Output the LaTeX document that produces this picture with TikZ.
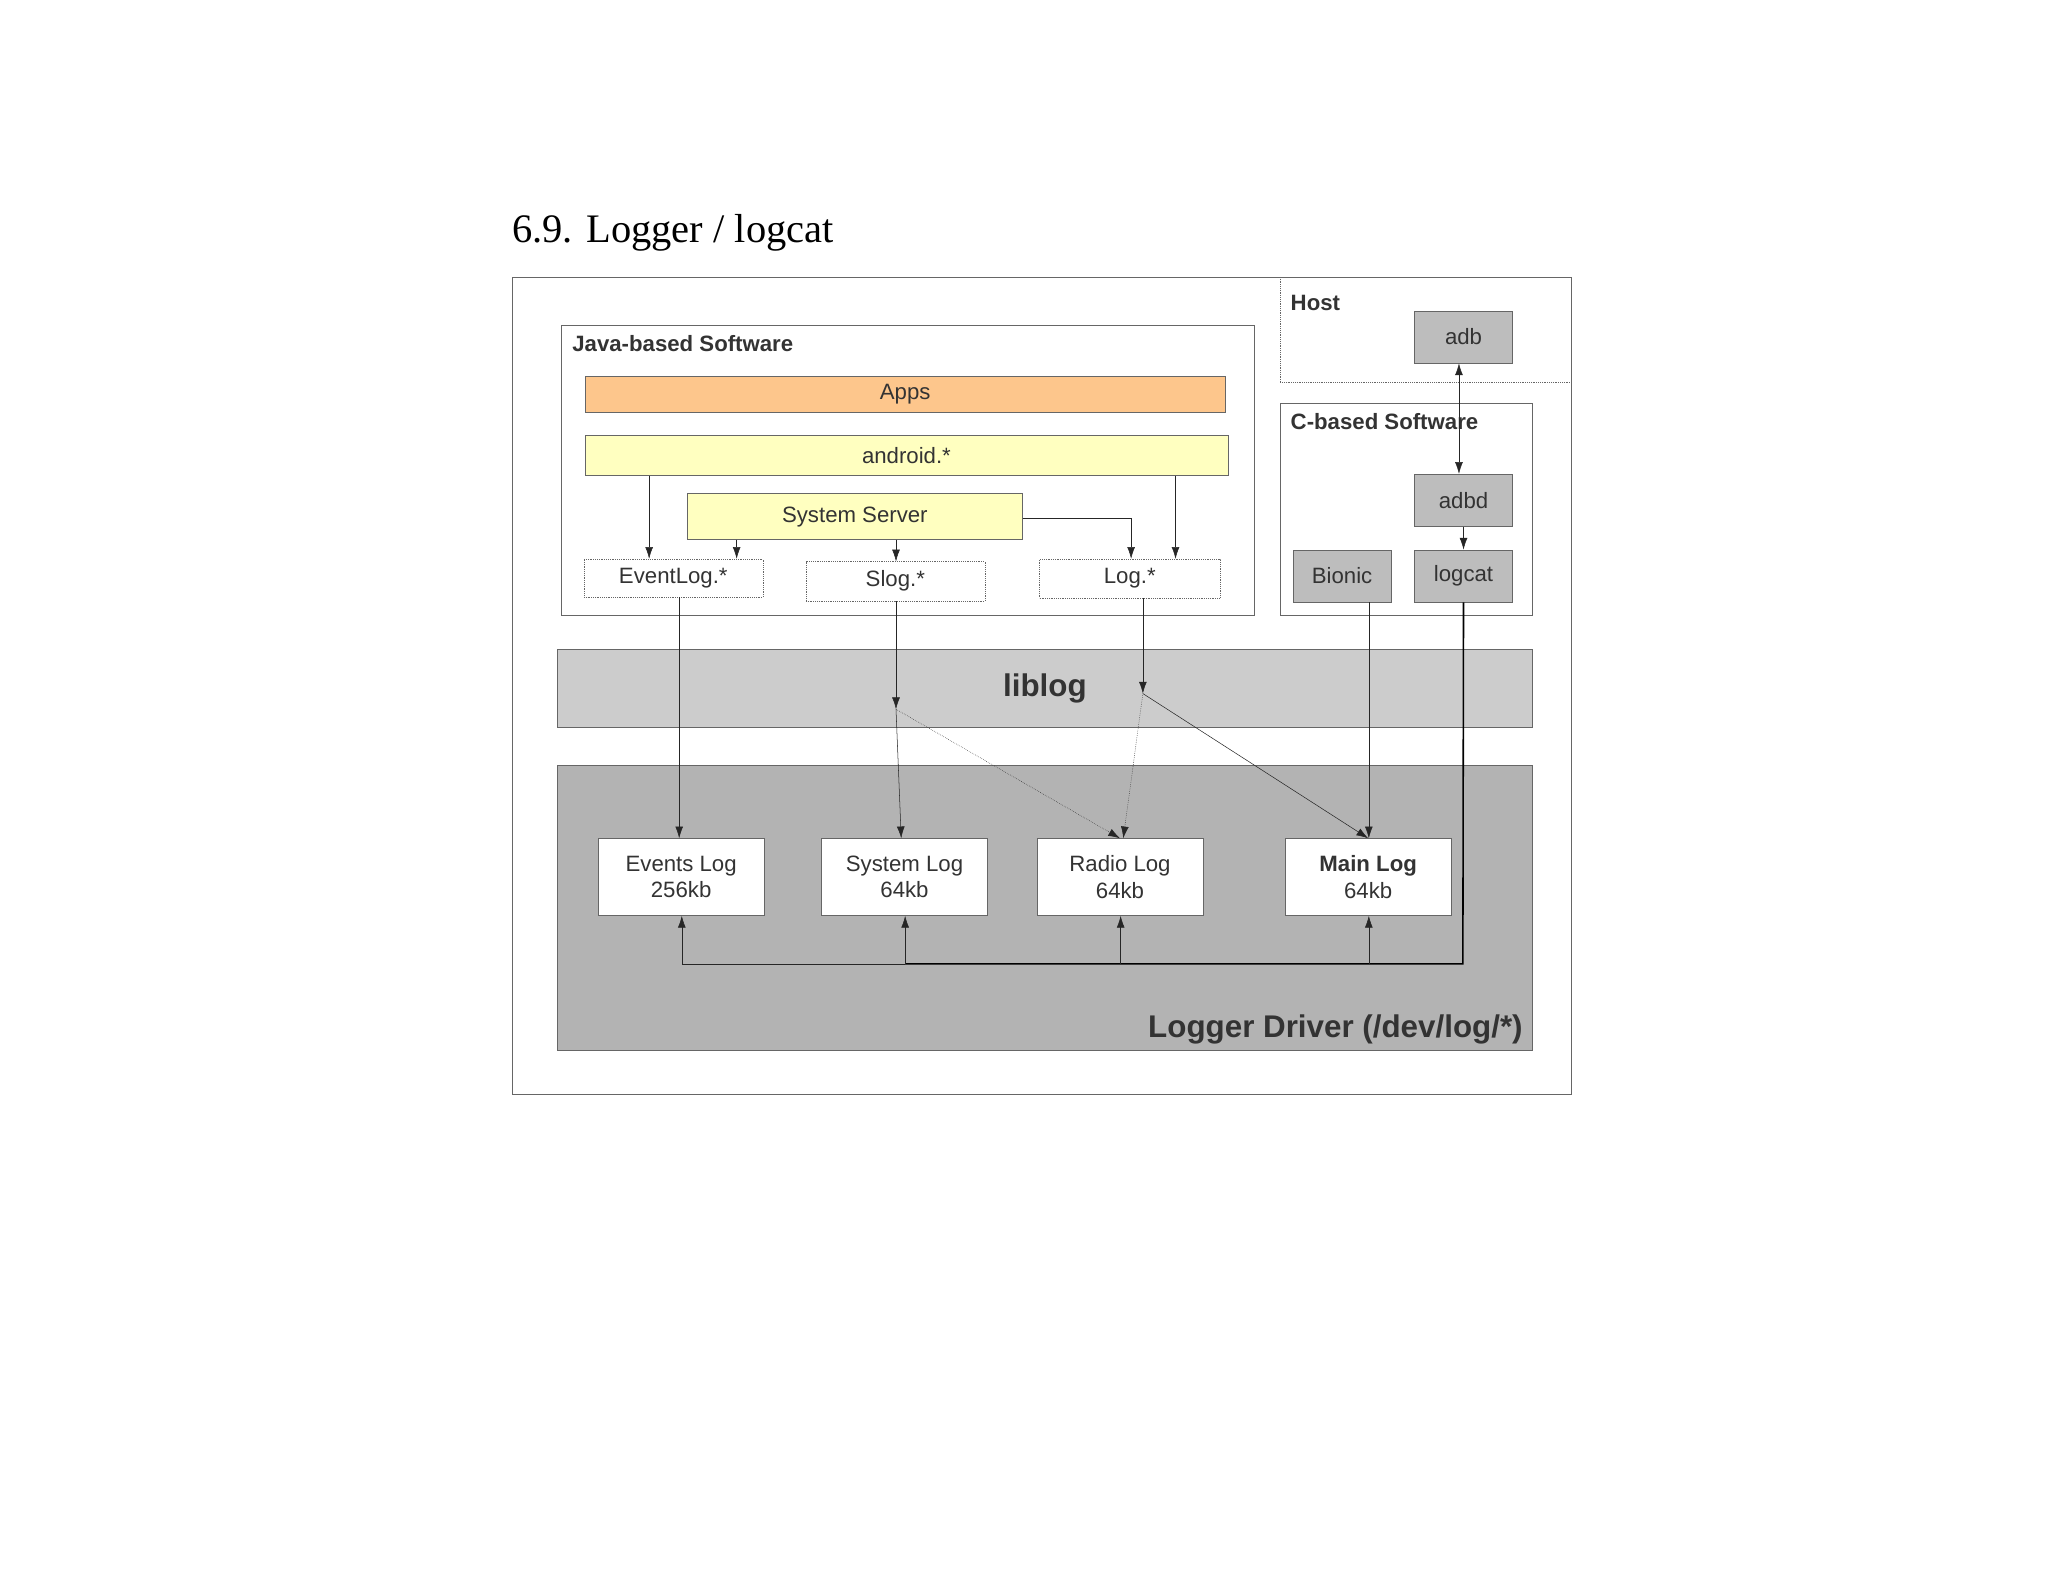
\documentclass[tikz,border=0pt]{standalone}
\usepackage{fontspec}
\setmainfont{Liberation Sans}
\newfontfamily\titlefont{Liberation Serif}
\usetikzlibrary{arrows.meta}
\definecolor{appsorange}{HTML}{FDC68C}
\definecolor{paleyellow}{HTML}{FFFFC0}
\definecolor{boxgray}{HTML}{BDBDBD}
\definecolor{libgray}{HTML}{CCCCCC}
\definecolor{drvgray}{HTML}{B3B3B3}
\definecolor{txt}{HTML}{333333}
\tikzset{
  box/.style={draw=black!60, text=txt, inner sep=0pt, font=\fontsize{17}{20}\selectfont, align=center},
  tag/.style={box, densely dotted, fill=white},
  grp/.style={font=\bfseries\fontsize{17}{20}\selectfont, text=txt, anchor=west, inner sep=0pt},
  arr/.style={-{Latex[length=9pt,width=6pt]}, black!85}
}
\begin{document}
\begin{tikzpicture}[x=1pt,y=-1pt]
\useasboundingbox (0,0) rectangle (1568,1211);

\node[font=\titlefont\fontsize{31}{34}\selectfont, anchor=west, inner sep=0pt] at (392,178) {6.9. Logger / logcat};
\draw[black!60] (392,212) rectangle (1203,838);

\draw[black!60, densely dotted] (980,212) -- (980,293) -- (1203,293);
\node[grp] (host) at (988,232) {Host};
\node[box, fill=boxgray, minimum width=75pt, minimum height=40pt] (adb) at (1120.5,258) {adb};

\draw[black!60] (430,249) rectangle (960,471);
\node[grp] (java) at (438,263) {Java-based Software};
\node[box, fill=appsorange, minimum width=490pt, minimum height=28pt] (apps) at (693,302) {Apps};
\node[box, fill=paleyellow, minimum width=492pt, minimum height=31pt] (android) at (694,348.5) {android.*};
\node[box, fill=paleyellow, minimum width=257pt, minimum height=35pt] (sysserver) at (654.5,395.5) {System Server};
\node[tag, minimum width=137pt, minimum height=29pt] (eventlog) at (515.5,442.5) {EventLog.*};
\node[tag, minimum width=137pt, minimum height=30pt] (slog) at (685.5,445) {Slog.*};
\node[tag, minimum width=138pt, minimum height=30pt] (log) at (865,443) {Log.*};

\draw[black!60] (980,309) rectangle (1173,471);
\node[grp] (cbased) at (988,323) {C-based Software};
\node[box, fill=boxgray, minimum width=75pt, minimum height=40pt] (adbd) at (1120.5,383) {adbd};
\node[box, fill=boxgray, minimum width=75pt, minimum height=40pt] (bionic) at (1027.5,441) {Bionic};
\node[box, fill=boxgray, minimum width=75pt, minimum height=40pt] (logcat) at (1120.5,441) {logcat};

\node[box, fill=libgray, minimum width=746pt, minimum height=60pt, font=\bfseries\fontsize{24}{28}\selectfont] (liblog) at (800,527) {liblog};
\draw[black!60, fill=drvgray] (427,586) rectangle (1173,804);
\node[grp, anchor=east, font=\bfseries\fontsize{24}{28}\selectfont] (driver) at (1166,788) {Logger Driver (/dev/log/*)};

\node[box, fill=white, minimum width=127pt, minimum height=59pt] (events) at (521.5,671.5) {Events Log\\256kb};
\node[box, fill=white, minimum width=127pt, minimum height=59pt] (system) at (692.5,671.5) {System Log\\64kb};
\node[box, fill=white, minimum width=127pt, minimum height=59pt] (radio) at (857.5,671.5) {Radio Log\\64kb};
\node[box, fill=white, minimum width=127pt, minimum height=59pt] (main) at (1047.5,671.5) {\textbf{Main Log}\\64kb};

% java side
\draw[arr] (android.south -| 497,0) -- (eventlog.north -| 497,0);
\draw[arr] (android.south -| 900,0) -- (log.north -| 900,0);
\draw[arr] (sysserver.south -| 564,0) -- (eventlog.north -| 564,0);
\draw[arr] (sysserver.south -| 686,0) -- (slog.north -| 686,0);
\draw[arr] (sysserver.east |- 0,397) -| (log.north -| 866,0);

% into the driver
\coordinate (slogmid) at (686,543);
\coordinate (logmid) at (875,531);
\draw[arr] (eventlog.south -| 520,0) -- (events.north -| 520,0);
\draw[arr] (slog.south -| 686,0) -- (slogmid);
\draw[arr] (slogmid) -- (system.north -| 690,0);
\draw[arr, densely dotted] (slogmid) -- (radio.north);
\draw[arr] (log.south -| 875,0) -- (logmid);
\draw[arr] (logmid) -- (main.north);
\draw[arr, densely dotted] (logmid) -- (radio.north -| 860,0);
\draw[arr] (bionic.south -| 1048,0) -- (main.north -| 1048,0);

% host side
\draw[{Latex[length=9pt,width=6pt]}-{Latex[length=9pt,width=6pt]}, black!85] (adb.south -| 1117,0) -- (adbd.north -| 1117,0);
\draw[arr] (adbd.south) -- (logcat.north);

% logcat reads back
\coordinate (bus) at (1120,738);
\draw[very thick] (logcat.south) -- (bus) -- (693,738);
\draw[black!85] (693,738) -- (522,738);
\draw[arr] (522,738) -- (events.south -| 522,0);
\draw[arr] (693,738) -- (system.south -| 693,0);
\draw[arr] (858,738) -- (radio.south -| 858,0);
\draw[arr] (1048,738) -- (main.south -| 1048,0);
\end{tikzpicture}
\end{document}
